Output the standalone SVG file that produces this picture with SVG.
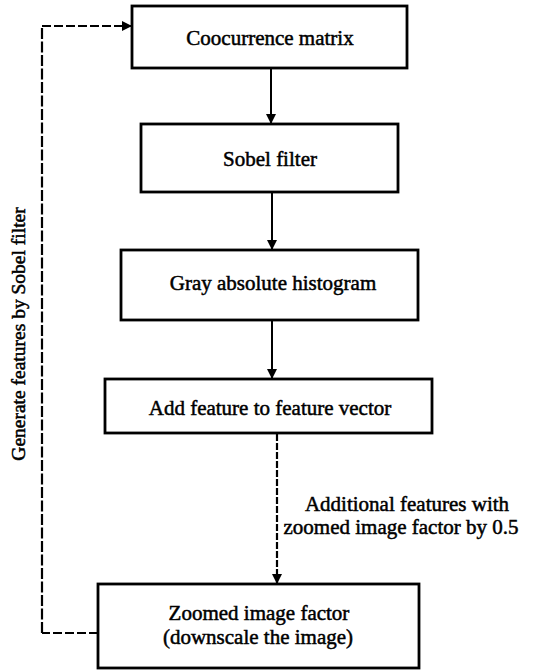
<svg xmlns="http://www.w3.org/2000/svg" width="534" height="670" viewBox="0 0 534 670">
<defs>
<style>
.box{fill:#fff;stroke:#000;stroke-width:2.8}
.t{font-family:"Liberation Serif","Times New Roman",serif;font-size:21px;fill:#000;stroke:#000;stroke-width:0.5;text-anchor:middle}
.ln{fill:none;stroke:#000;stroke-width:2}
.dash{fill:none;stroke:#000;stroke-width:2;stroke-dasharray:9 3}
.dashv{fill:none;stroke:#000;stroke-width:2.2;stroke-dasharray:11 2.5}
</style>
<marker id="ah" viewBox="0 0 10 10" refX="10" refY="5" markerWidth="10" markerHeight="10" markerUnits="userSpaceOnUse" orient="auto">
<path d="M0,0 L10,5 L0,10 Z" fill="#000"/>
</marker>
</defs>
<rect width="534" height="670" fill="#fff"/>
<g id="connectors">
<line class="ln" x1="271" y1="68" x2="271" y2="124" marker-end="url(#ah)"/>
<line class="ln" x1="272" y1="192" x2="272" y2="250" marker-end="url(#ah)"/>
<line class="ln" x1="272" y1="320" x2="272" y2="379" marker-end="url(#ah)"/>
<line class="dashv" x1="277" y1="434" x2="277" y2="584" style="stroke-dasharray:7 2" marker-end="url(#ah)"/>
<polyline class="dash" points="98,633 42,633"/>
<line class="dashv" x1="42" y1="633" x2="42" y2="26"/>
<polyline class="dash" points="42,26 132,26" marker-end="url(#ah)"/>
<text class="t" style="font-size:19.5px" transform="translate(25,334) rotate(-90)">Generate features by Sobel filter</text>
<text class="t" x="407" y="511">Additional features with</text>
<text class="t" x="401" y="534">zoomed image factor by 0.5</text>
</g>
<g id="n1">
<rect class="box" x="132" y="6" width="275" height="62"/>
<text class="t" x="270" y="45">Coocurrence matrix</text>
</g>
<g id="n2">
<rect class="box" x="141" y="124" width="257" height="68"/>
<text class="t" x="270" y="166">Sobel filter</text>
</g>
<g id="n3">
<rect class="box" x="121" y="250" width="297" height="70"/>
<text class="t" x="273" y="290">Gray absolute histogram</text>
</g>
<g id="n4">
<rect class="box" x="105" y="379" width="327" height="54"/>
<text class="t" x="270" y="415">Add feature to feature vector</text>
</g>
<g id="n5">
<rect class="box" x="98" y="584" width="321" height="84"/>
<text class="t" x="259" y="620">Zoomed image factor</text>
<text class="t" x="258" y="644">(downscale the image)</text>
</g>
</svg>
